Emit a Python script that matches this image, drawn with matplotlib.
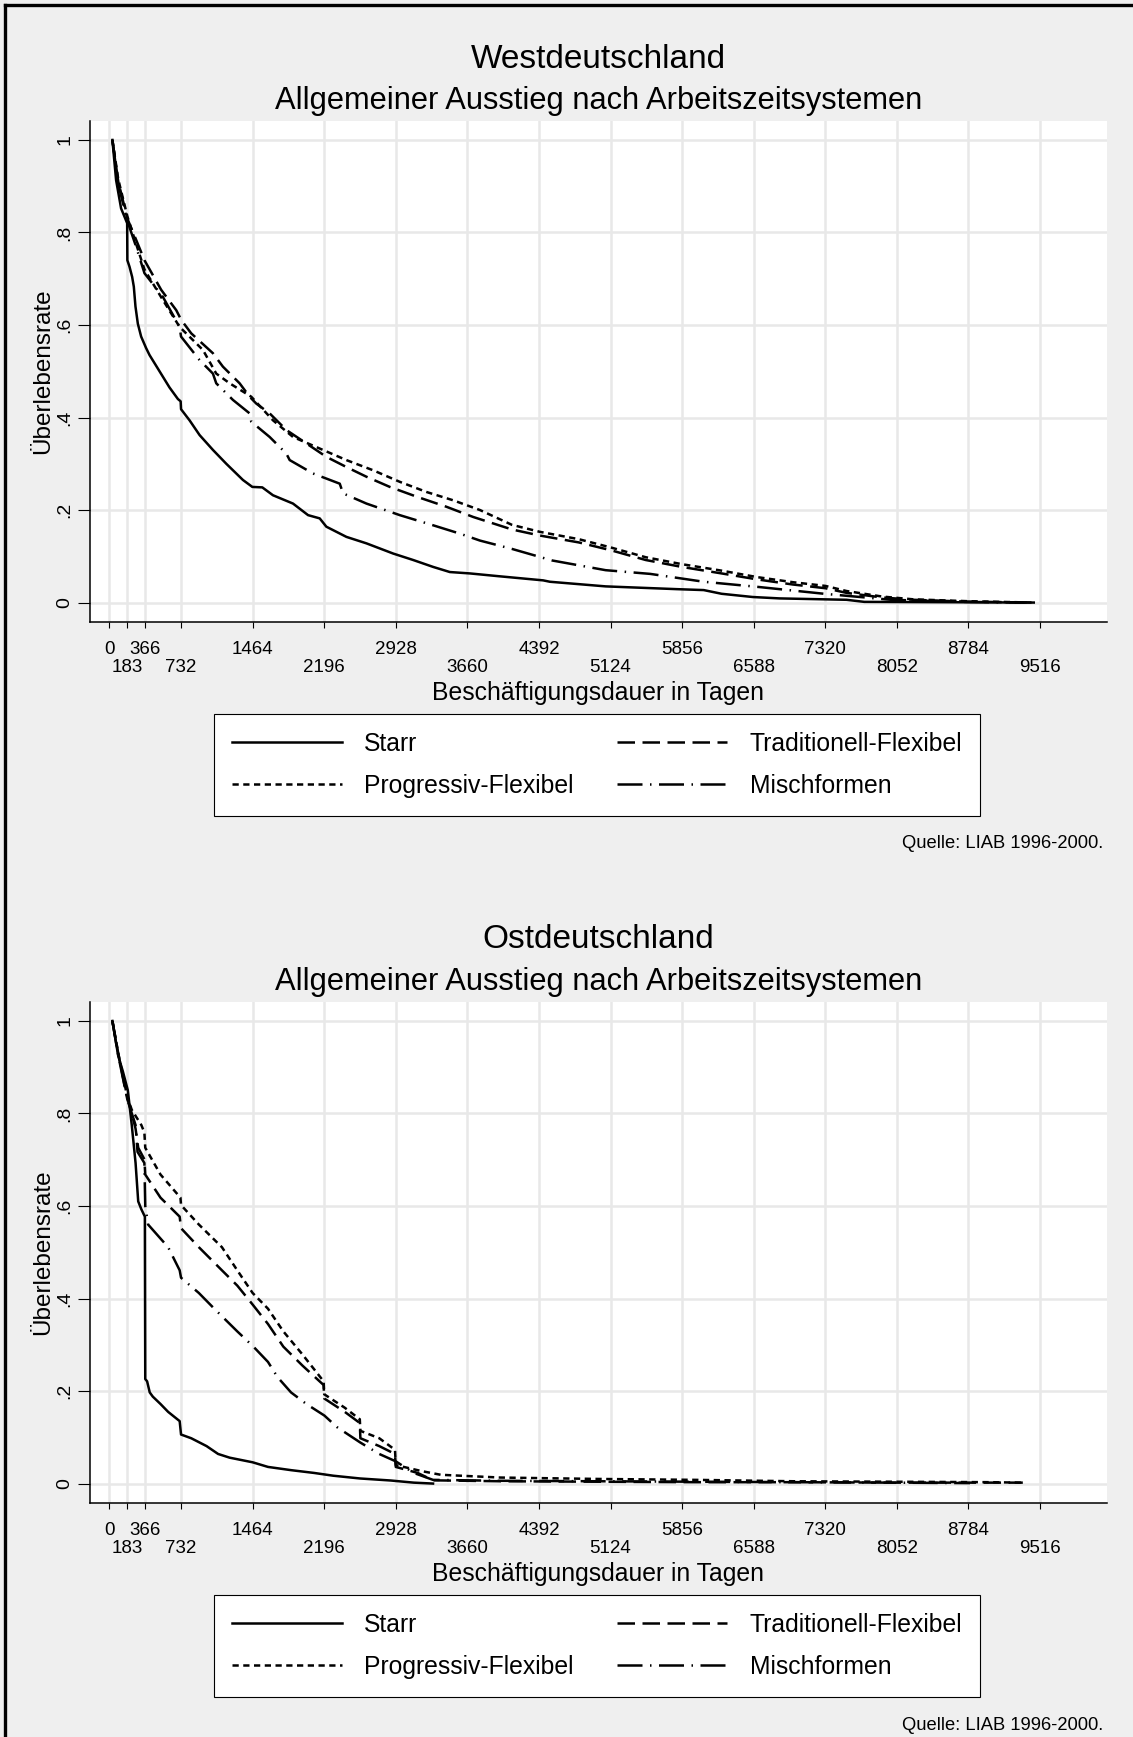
import matplotlib
matplotlib.use("Agg")
import matplotlib.pyplot as plt
from matplotlib.lines import Line2D
from matplotlib.ticker import FixedLocator, FixedFormatter

plt.rcParams['font.family'] = ['Liberation Sans', 'DejaVu Sans']

W, H = 1133, 1737

# x ticks: upper row (major) and lower row (minor)
ticks_upper = [0, 366, 1464, 2928, 4392, 5856, 7320, 8784]
ticks_lower = [183, 732, 2196, 3660, 5124, 6588, 8052, 9516]
y_ticks = [0, 0.2, 0.4, 0.6, 0.8, 1]
y_labels = ["0", ".2", ".4", ".6", ".8", "1"]

labels = ["Starr", "Traditionell-Flexibel", "Progressiv-Flexibel", "Mischformen"]

# Westdeutschland
west_starr_t = [30, 68, 119, 154, 181, 183, 205, 232, 249, 266, 290, 324, 375, 410, 512, 614, 700, 728, 732,
                819, 922, 1058, 1195, 1365, 1461, 1563, 1672, 1877, 2031, 2150, 2218, 2423, 2628, 2901,
                3106, 3311, 3481, 3686, 3979, 4435, 4504, 5074, 5803, 6077, 6260, 6579, 6853, 7537, 7719,
                8300, 8905, 9452]
west_starr_s = [1.0, 0.913, 0.852, 0.834, 0.82, 0.74, 0.726, 0.704, 0.683, 0.64, 0.603, 0.575, 0.55,
                0.535, 0.5, 0.465, 0.44, 0.435, 0.418, 0.394, 0.362, 0.33, 0.30, 0.265, 0.25, 0.249, 0.232,
                0.214, 0.189, 0.182, 0.164, 0.142, 0.128, 0.106, 0.092, 0.077, 0.066, 0.063, 0.057,
                0.048, 0.045, 0.035, 0.029, 0.027, 0.019, 0.012, 0.009, 0.006, 0.0015, 0.001, 0.0005, 0.0]

west_trad_t = [30, 90, 183, 273, 358, 529, 683, 734, 836, 1058, 1160, 1331, 1433, 1502, 1638, 1809,
               2014, 2218, 2423, 2628, 2867, 3140, 3447, 3720, 4116, 4399, 4800, 5129, 5484, 5854, 6260,
               6625, 6990, 7322, 7537, 7902, 8221, 8777, 9452]
west_trad_s = [1.0, 0.91, 0.83, 0.784, 0.74, 0.676, 0.632, 0.611, 0.582, 0.539, 0.51, 0.474, 0.445,
               0.43, 0.409, 0.373, 0.344, 0.315, 0.293, 0.272, 0.25, 0.229, 0.207, 0.185, 0.158, 0.145,
               0.13, 0.113, 0.092, 0.077, 0.063, 0.05, 0.039, 0.031, 0.021, 0.011, 0.006, 0.002, 0.0]

west_prog_t = [30, 90, 183, 273, 358, 529, 717, 956, 1092, 1229, 1450, 1672, 1877, 2150, 2423, 2696,
               2969, 3243, 3516, 3789, 4116, 4399, 4800, 5129, 5484, 5854, 6260, 6625, 6990, 7322, 7537,
               7902, 8221, 8777, 9452]
west_prog_s = [1.0, 0.915, 0.835, 0.775, 0.72, 0.66, 0.596, 0.546, 0.495, 0.474, 0.445, 0.394, 0.358,
               0.333, 0.308, 0.286, 0.261, 0.239, 0.221, 0.2, 0.168, 0.153, 0.137, 0.119, 0.098, 0.083,
               0.069, 0.055, 0.044, 0.036, 0.025, 0.013, 0.007, 0.003, 0.0]

west_misch_t = [30, 90, 183, 273, 358, 546, 717, 732, 922, 1058, 1092, 1263, 1433, 1450, 1638, 1809,
                1843, 2082, 2355, 2389, 2628, 2969, 3311, 3584, 3789, 4116, 4527, 5074, 5530, 6077,
                6625, 7309, 7993, 8768, 9361]
west_misch_s = [1.0, 0.905, 0.825, 0.769, 0.712, 0.661, 0.596, 0.575, 0.524, 0.495, 0.474, 0.438,
                0.409, 0.391, 0.358, 0.322, 0.308, 0.279, 0.257, 0.236, 0.214, 0.189, 0.167, 0.149,
                0.134, 0.116, 0.091, 0.07, 0.062, 0.045, 0.034, 0.019, 0.006, 0.0014, 0.0]

# Ostdeutschland
east_starr_t = [30, 90, 137, 188, 228, 267, 294, 326, 362, 366, 385, 412, 443, 522, 600, 718, 732, 836,
                993, 1111, 1229, 1464, 1621, 1857, 2092, 2288, 2563, 2877, 3112, 3309]
east_starr_s = [1.0, 0.924, 0.891, 0.85, 0.775, 0.693, 0.61, 0.593, 0.577, 0.226, 0.221, 0.197, 0.188,
                0.172, 0.155, 0.135, 0.106, 0.098, 0.081, 0.064, 0.056, 0.046, 0.036, 0.029, 0.023,
                0.017, 0.011, 0.0066, 0.002, 0.0]

east_trad_t = [30, 90, 183, 208, 267, 294, 357, 366, 522, 718, 732, 914, 1150, 1307, 1464, 1621, 1778,
               1974, 2190, 2196, 2406, 2560, 2566, 2759, 2920, 2928, 3152, 3309, 4000, 5000, 6000, 7000,
               8000, 9000, 9340]
east_trad_s = [1.0, 0.93, 0.83, 0.817, 0.767, 0.726, 0.701, 0.668, 0.618, 0.577, 0.552, 0.511, 0.461,
               0.428, 0.387, 0.345, 0.296, 0.255, 0.213, 0.184, 0.155, 0.131, 0.098, 0.081, 0.064,
               0.036, 0.023, 0.007, 0.005, 0.004, 0.003, 0.003, 0.002, 0.002, 0.002]

east_prog_t = [30, 90, 183, 228, 326, 357, 366, 522, 726, 732, 914, 1150, 1307, 1464, 1621, 1778, 1974,
               2190, 2196, 2406, 2560, 2566, 2759, 2920, 2928, 3191, 3387, 4000, 5000, 6000, 7000, 8000,
               9000, 9340]
east_prog_s = [1.0, 0.93, 0.835, 0.808, 0.775, 0.759, 0.726, 0.668, 0.618, 0.602, 0.56, 0.511, 0.461,
               0.412, 0.378, 0.329, 0.279, 0.221, 0.193, 0.164, 0.139, 0.114, 0.098, 0.073, 0.04, 0.027,
               0.019, 0.013, 0.01, 0.008, 0.005, 0.004, 0.003, 0.002]

east_misch_t = [30, 90, 183, 267, 287, 357, 366, 395, 600, 718, 732, 914, 1072, 1307, 1472, 1621, 1719,
                1857, 2014, 2198, 2327, 2563, 2759, 2928, 3112, 3309, 4000, 5000, 6000, 7000, 8000, 8800]
east_misch_s = [1.0, 0.925, 0.83, 0.775, 0.717, 0.693, 0.6, 0.56, 0.511, 0.461, 0.445, 0.412, 0.378,
                0.329, 0.296, 0.263, 0.23, 0.197, 0.172, 0.147, 0.122, 0.089, 0.064, 0.048, 0.023,
                0.008, 0.006, 0.005, 0.004, 0.003, 0.002, 0.001]

styles = ['-', (0, (7, 3)), (0, (2.5, 1.8)), (0, (10, 3, 0.6, 3))]


def px_x(p):
    return p / W


def px_y(p):
    return 1 - p / H


def draw_panel(fig, top, curves, title):
    bottom = top + 501
    ax = fig.add_axes([px_x(90), px_y(bottom), px_x(1107 - 90), 501 / H])
    ax.set_facecolor('white')

    handles = []
    for (t, s), ls, lab in zip(curves, styles, labels):
        line, = ax.plot(t, s, color='black', lw=1.8, linestyle=ls, label=lab)
        handles.append(line)

    ax.set_xlim(-199, 10201)
    ax.set_ylim(-0.042, 1.041)

    ax.xaxis.set_major_locator(FixedLocator(ticks_upper))
    ax.xaxis.set_major_formatter(FixedFormatter([str(v) for v in ticks_upper]))
    ax.xaxis.set_minor_locator(FixedLocator(ticks_lower))
    ax.xaxis.set_minor_formatter(FixedFormatter([str(v) for v in ticks_lower]))
    ax.tick_params(axis='x', which='major', length=4.5, width=0.8, pad=9.0, labelsize=13.5)
    ax.tick_params(axis='x', which='minor', length=4.5, width=0.8, pad=22.0, labelsize=13.5)

    ax.set_yticks(y_ticks)
    ax.set_yticklabels(y_labels)
    ax.tick_params(axis='y', length=8.6, width=0.8, pad=3.5, labelsize=14, labelrotation=90)
    for lbl in ax.get_yticklabels():
        lbl.set_va('center')

    ax.grid(True, which='both', color='#e8e8e8', lw=1.8)
    ax.set_axisbelow(True)
    for side in ['top', 'right']:
        ax.spines[side].set_visible(False)
    for side in ['left', 'bottom']:
        ax.spines[side].set_linewidth(1.1)

    ax.set_ylabel("Überlebensrate", fontsize=17.5)
    ax.yaxis.set_label_coords(-0.035, 0.5)

    cx = px_x((90 + 1107) / 2)
    fig.text(cx, px_y(top - 62), title, ha='center', va='center', fontsize=24)
    fig.text(cx, px_y(top - 20), "Allgemeiner Ausstieg nach Arbeitszeitsystemen",
             ha='center', va='center', fontsize=22.2)
    fig.text(cx, px_y(bottom + 71), "Beschäftigungsdauer in Tagen", ha='center', va='center',
             fontsize=17.8)

    # legend filled row by row: Starr, Traditionell / Progressiv, Mischformen
    order = [0, 2, 1, 3]
    leg = ax.legend([handles[i] for i in order], [labels[i] for i in order],
                    loc='center', ncol=2, mode='expand', borderaxespad=0,
                    bbox_to_anchor=(px_x(214), px_y(bottom + 194), px_x(766), 102 / H),
                    bbox_transform=fig.transFigure, fontsize=17.8, handlelength=4.45,
                    handletextpad=0.9, columnspacing=2.0, borderpad=0.72,
                    labelspacing=0.72, fancybox=False, framealpha=1, edgecolor='black')
    leg.get_frame().set_linewidth(0.8)

    fig.text(px_x(1103), px_y(bottom + 222), "Quelle: LIAB 1996-2000.", ha='right', va='center',
             fontsize=13.2)
    return ax


fig = plt.figure(figsize=(W / 100, H / 100), dpi=100)
fig.patch.set_facecolor('#efefef')

west = [(west_starr_t, west_starr_s), (west_trad_t, west_trad_s),
        (west_prog_t, west_prog_s), (west_misch_t, west_misch_s)]
east = [(east_starr_t, east_starr_s), (east_trad_t, east_trad_s),
        (east_prog_t, east_prog_s), (east_misch_t, east_misch_s)]

draw_panel(fig, 121, west, "Westdeutschland")
draw_panel(fig, 1002, east, "Ostdeutschland")

# outer frame (left and top edges)
fig.add_artist(Line2D([px_x(5), px_x(5)], [px_y(1737), px_y(5)], transform=fig.transFigure,
                      color='black', lw=2.4))
fig.add_artist(Line2D([px_x(5), px_x(1133)], [px_y(5), px_y(5)], transform=fig.transFigure,
                      color='black', lw=2.4))

fig.savefig("out.png", dpi=100, facecolor=fig.get_facecolor())
